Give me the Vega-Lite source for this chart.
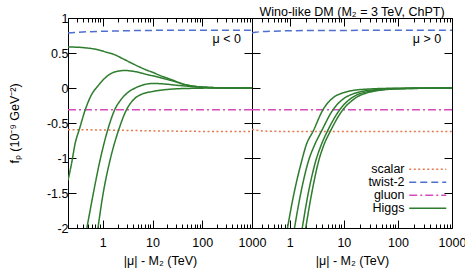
{
  "$schema": "https://vega.github.io/schema/vega-lite/v6.json",
  "padding": {"left": 7, "top": 5, "right": 2, "bottom": 2},
  "spacing": 0,
  "bounds": "flush",
  "resolve": {"scale": {"color": "independent", "strokeDash": "independent"}, "legend": {"color": "independent", "strokeDash": "independent"}},
  "config": {
    "font": "Liberation Sans",
    "view": {"stroke": "black", "strokeWidth": 1},
    "axis": {"domain": false, "grid": false, "tickColor": "black", "tickWidth": 1, "labelColor": "black", "titleColor": "black", "labelFontSize": 12.5, "titleFontSize": 12.5, "titleFontWeight": "normal", "labelFont": "Liberation Sans", "titleFont": "Liberation Sans"},
    "legend": {"labelFont": "Liberation Sans", "labelFontSize": 12.5, "labelColor": "black"}
  },
  "data": {"values": [
    {"p": "neg", "s": "scalar", "c": "s", "x": 0.2, "y": -0.595},
    {"p": "neg", "s": "scalar", "c": "s", "x": 1, "y": -0.6},
    {"p": "neg", "s": "scalar", "c": "s", "x": 10, "y": -0.612},
    {"p": "neg", "s": "scalar", "c": "s", "x": 100, "y": -0.62},
    {"p": "neg", "s": "scalar", "c": "s", "x": 1000, "y": -0.622},
    {"p": "neg", "s": "twist-2", "c": "t", "x": 0.2, "y": 0.787},
    {"p": "neg", "s": "twist-2", "c": "t", "x": 0.3, "y": 0.795},
    {"p": "neg", "s": "twist-2", "c": "t", "x": 0.5, "y": 0.803},
    {"p": "neg", "s": "twist-2", "c": "t", "x": 1, "y": 0.81},
    {"p": "neg", "s": "twist-2", "c": "t", "x": 3, "y": 0.818},
    {"p": "neg", "s": "twist-2", "c": "t", "x": 10, "y": 0.823},
    {"p": "neg", "s": "twist-2", "c": "t", "x": 100, "y": 0.825},
    {"p": "neg", "s": "twist-2", "c": "t", "x": 1000, "y": 0.825},
    {"p": "neg", "s": "gluon", "c": "g", "x": 0.2, "y": -0.31},
    {"p": "neg", "s": "gluon", "c": "g", "x": 1000, "y": -0.31},
    {"p": "neg", "s": "Higgs", "c": "h1", "x": 0.2, "y": 0.585},
    {"p": "neg", "s": "Higgs", "c": "h1", "x": 0.3, "y": 0.583},
    {"p": "neg", "s": "Higgs", "c": "h1", "x": 0.5, "y": 0.57},
    {"p": "neg", "s": "Higgs", "c": "h1", "x": 0.8, "y": 0.547},
    {"p": "neg", "s": "Higgs", "c": "h1", "x": 1.2, "y": 0.51},
    {"p": "neg", "s": "Higgs", "c": "h1", "x": 1.74, "y": 0.476},
    {"p": "neg", "s": "Higgs", "c": "h1", "x": 2.5, "y": 0.42},
    {"p": "neg", "s": "Higgs", "c": "h1", "x": 3.75, "y": 0.357},
    {"p": "neg", "s": "Higgs", "c": "h1", "x": 5.5, "y": 0.3},
    {"p": "neg", "s": "Higgs", "c": "h1", "x": 8, "y": 0.25},
    {"p": "neg", "s": "Higgs", "c": "h1", "x": 10, "y": 0.225},
    {"p": "neg", "s": "Higgs", "c": "h1", "x": 14, "y": 0.18},
    {"p": "neg", "s": "Higgs", "c": "h1", "x": 20, "y": 0.14},
    {"p": "neg", "s": "Higgs", "c": "h1", "x": 26, "y": 0.11},
    {"p": "neg", "s": "Higgs", "c": "h1", "x": 35, "y": 0.075},
    {"p": "neg", "s": "Higgs", "c": "h1", "x": 47, "y": 0.047},
    {"p": "neg", "s": "Higgs", "c": "h1", "x": 74, "y": 0.023},
    {"p": "neg", "s": "Higgs", "c": "h1", "x": 120, "y": 0.01},
    {"p": "neg", "s": "Higgs", "c": "h1", "x": 300, "y": 0.002},
    {"p": "neg", "s": "Higgs", "c": "h1", "x": 1000, "y": 0},
    {"p": "neg", "s": "Higgs", "c": "h2", "x": 0.2, "y": -1.32},
    {"p": "neg", "s": "Higgs", "c": "h2", "x": 0.24, "y": -1.05},
    {"p": "neg", "s": "Higgs", "c": "h2", "x": 0.275, "y": -0.81},
    {"p": "neg", "s": "Higgs", "c": "h2", "x": 0.345, "y": -0.57},
    {"p": "neg", "s": "Higgs", "c": "h2", "x": 0.435, "y": -0.33},
    {"p": "neg", "s": "Higgs", "c": "h2", "x": 0.59, "y": -0.1},
    {"p": "neg", "s": "Higgs", "c": "h2", "x": 0.8, "y": 0.03},
    {"p": "neg", "s": "Higgs", "c": "h2", "x": 1.1, "y": 0.14},
    {"p": "neg", "s": "Higgs", "c": "h2", "x": 1.74, "y": 0.23},
    {"p": "neg", "s": "Higgs", "c": "h2", "x": 2.77, "y": 0.25},
    {"p": "neg", "s": "Higgs", "c": "h2", "x": 4.4, "y": 0.235},
    {"p": "neg", "s": "Higgs", "c": "h2", "x": 8, "y": 0.19},
    {"p": "neg", "s": "Higgs", "c": "h2", "x": 10, "y": 0.175},
    {"p": "neg", "s": "Higgs", "c": "h2", "x": 14, "y": 0.15},
    {"p": "neg", "s": "Higgs", "c": "h2", "x": 20, "y": 0.12},
    {"p": "neg", "s": "Higgs", "c": "h2", "x": 26, "y": 0.1},
    {"p": "neg", "s": "Higgs", "c": "h2", "x": 35, "y": 0.07},
    {"p": "neg", "s": "Higgs", "c": "h2", "x": 47, "y": 0.045},
    {"p": "neg", "s": "Higgs", "c": "h2", "x": 74, "y": 0.022},
    {"p": "neg", "s": "Higgs", "c": "h2", "x": 120, "y": 0.01},
    {"p": "neg", "s": "Higgs", "c": "h2", "x": 300, "y": 0.002},
    {"p": "neg", "s": "Higgs", "c": "h2", "x": 1000, "y": 0},
    {"p": "neg", "s": "Higgs", "c": "h3", "x": 0.48, "y": -2},
    {"p": "neg", "s": "Higgs", "c": "h3", "x": 0.64, "y": -1.52},
    {"p": "neg", "s": "Higgs", "c": "h3", "x": 0.87, "y": -1.05},
    {"p": "neg", "s": "Higgs", "c": "h3", "x": 1.28, "y": -0.58},
    {"p": "neg", "s": "Higgs", "c": "h3", "x": 1.74, "y": -0.31},
    {"p": "neg", "s": "Higgs", "c": "h3", "x": 2.3, "y": -0.17},
    {"p": "neg", "s": "Higgs", "c": "h3", "x": 3.0, "y": -0.08},
    {"p": "neg", "s": "Higgs", "c": "h3", "x": 4.5, "y": 0.0},
    {"p": "neg", "s": "Higgs", "c": "h3", "x": 7, "y": 0.05},
    {"p": "neg", "s": "Higgs", "c": "h3", "x": 10, "y": 0.065},
    {"p": "neg", "s": "Higgs", "c": "h3", "x": 17.5, "y": 0.057},
    {"p": "neg", "s": "Higgs", "c": "h3", "x": 30, "y": 0.04},
    {"p": "neg", "s": "Higgs", "c": "h3", "x": 47, "y": 0.028},
    {"p": "neg", "s": "Higgs", "c": "h3", "x": 74, "y": 0.015},
    {"p": "neg", "s": "Higgs", "c": "h3", "x": 120, "y": 0.007},
    {"p": "neg", "s": "Higgs", "c": "h3", "x": 300, "y": 0.001},
    {"p": "neg", "s": "Higgs", "c": "h3", "x": 1000, "y": 0},
    {"p": "neg", "s": "Higgs", "c": "h4", "x": 0.8, "y": -2},
    {"p": "neg", "s": "Higgs", "c": "h4", "x": 1.01, "y": -1.52},
    {"p": "neg", "s": "Higgs", "c": "h4", "x": 1.38, "y": -1.05},
    {"p": "neg", "s": "Higgs", "c": "h4", "x": 2.13, "y": -0.58},
    {"p": "neg", "s": "Higgs", "c": "h4", "x": 3.0, "y": -0.31},
    {"p": "neg", "s": "Higgs", "c": "h4", "x": 4.4, "y": -0.15},
    {"p": "neg", "s": "Higgs", "c": "h4", "x": 6, "y": -0.09},
    {"p": "neg", "s": "Higgs", "c": "h4", "x": 10, "y": -0.05},
    {"p": "neg", "s": "Higgs", "c": "h4", "x": 17.5, "y": -0.025},
    {"p": "neg", "s": "Higgs", "c": "h4", "x": 30, "y": -0.012},
    {"p": "neg", "s": "Higgs", "c": "h4", "x": 60, "y": -0.005},
    {"p": "neg", "s": "Higgs", "c": "h4", "x": 150, "y": -0.001},
    {"p": "neg", "s": "Higgs", "c": "h4", "x": 1000, "y": 0},
    {"p": "pos", "s": "scalar", "c": "s", "x": 0.2, "y": -0.59},
    {"p": "pos", "s": "scalar", "c": "s", "x": 0.25, "y": -0.605},
    {"p": "pos", "s": "scalar", "c": "s", "x": 0.3, "y": -0.613},
    {"p": "pos", "s": "scalar", "c": "s", "x": 0.5, "y": -0.619},
    {"p": "pos", "s": "scalar", "c": "s", "x": 1, "y": -0.621},
    {"p": "pos", "s": "scalar", "c": "s", "x": 1000, "y": -0.622},
    {"p": "pos", "s": "twist-2", "c": "t", "x": 0.2, "y": 0.785},
    {"p": "pos", "s": "twist-2", "c": "t", "x": 0.23, "y": 0.795},
    {"p": "pos", "s": "twist-2", "c": "t", "x": 0.3, "y": 0.805},
    {"p": "pos", "s": "twist-2", "c": "t", "x": 0.5, "y": 0.812},
    {"p": "pos", "s": "twist-2", "c": "t", "x": 1, "y": 0.818},
    {"p": "pos", "s": "twist-2", "c": "t", "x": 3, "y": 0.821},
    {"p": "pos", "s": "twist-2", "c": "t", "x": 10, "y": 0.823},
    {"p": "pos", "s": "twist-2", "c": "t", "x": 1000, "y": 0.824},
    {"p": "pos", "s": "gluon", "c": "g", "x": 0.2, "y": -0.31},
    {"p": "pos", "s": "gluon", "c": "g", "x": 1000, "y": -0.31},
    {"p": "pos", "s": "Higgs", "c": "hA", "x": 0.906, "y": -2},
    {"p": "pos", "s": "Higgs", "c": "hA", "x": 1.2, "y": -1.5},
    {"p": "pos", "s": "Higgs", "c": "hA", "x": 1.65, "y": -1.05},
    {"p": "pos", "s": "Higgs", "c": "hA", "x": 2.02, "y": -0.81},
    {"p": "pos", "s": "Higgs", "c": "hA", "x": 2.69, "y": -0.62},
    {"p": "pos", "s": "Higgs", "c": "hA", "x": 4.11, "y": -0.31},
    {"p": "pos", "s": "Higgs", "c": "hA", "x": 6.3, "y": -0.14},
    {"p": "pos", "s": "Higgs", "c": "hA", "x": 10, "y": -0.065},
    {"p": "pos", "s": "Higgs", "c": "hA", "x": 14.7, "y": -0.035},
    {"p": "pos", "s": "Higgs", "c": "hA", "x": 34, "y": -0.012},
    {"p": "pos", "s": "Higgs", "c": "hA", "x": 100, "y": -0.003},
    {"p": "pos", "s": "Higgs", "c": "hA", "x": 1000, "y": 0},
    {"p": "pos", "s": "Higgs", "c": "hB", "x": 1.22, "y": -2},
    {"p": "pos", "s": "Higgs", "c": "hB", "x": 1.6, "y": -1.5},
    {"p": "pos", "s": "Higgs", "c": "hB", "x": 2.2, "y": -1.05},
    {"p": "pos", "s": "Higgs", "c": "hB", "x": 2.89, "y": -0.81},
    {"p": "pos", "s": "Higgs", "c": "hB", "x": 3.83, "y": -0.62},
    {"p": "pos", "s": "Higgs", "c": "hB", "x": 6.3, "y": -0.31},
    {"p": "pos", "s": "Higgs", "c": "hB", "x": 10, "y": -0.15},
    {"p": "pos", "s": "Higgs", "c": "hB", "x": 14.7, "y": -0.085},
    {"p": "pos", "s": "Higgs", "c": "hB", "x": 34, "y": -0.028},
    {"p": "pos", "s": "Higgs", "c": "hB", "x": 100, "y": -0.007},
    {"p": "pos", "s": "Higgs", "c": "hB", "x": 1000, "y": 0},
    {"p": "pos", "s": "Higgs", "c": "hC", "x": 1.7, "y": -2},
    {"p": "pos", "s": "Higgs", "c": "hC", "x": 2.2, "y": -1.5},
    {"p": "pos", "s": "Higgs", "c": "hC", "x": 3.0, "y": -1.05},
    {"p": "pos", "s": "Higgs", "c": "hC", "x": 3.83, "y": -0.81},
    {"p": "pos", "s": "Higgs", "c": "hC", "x": 4.94, "y": -0.62},
    {"p": "pos", "s": "Higgs", "c": "hC", "x": 8.4, "y": -0.31},
    {"p": "pos", "s": "Higgs", "c": "hC", "x": 14.7, "y": -0.13},
    {"p": "pos", "s": "Higgs", "c": "hC", "x": 34, "y": -0.04},
    {"p": "pos", "s": "Higgs", "c": "hC", "x": 100, "y": -0.01},
    {"p": "pos", "s": "Higgs", "c": "hC", "x": 1000, "y": 0},
    {"p": "pos", "s": "Higgs", "c": "hD", "x": 1.97, "y": -2},
    {"p": "pos", "s": "Higgs", "c": "hD", "x": 2.55, "y": -1.5},
    {"p": "pos", "s": "Higgs", "c": "hD", "x": 3.4, "y": -1.05},
    {"p": "pos", "s": "Higgs", "c": "hD", "x": 4.29, "y": -0.81},
    {"p": "pos", "s": "Higgs", "c": "hD", "x": 5.6, "y": -0.62},
    {"p": "pos", "s": "Higgs", "c": "hD", "x": 9.6, "y": -0.31},
    {"p": "pos", "s": "Higgs", "c": "hD", "x": 14.7, "y": -0.17},
    {"p": "pos", "s": "Higgs", "c": "hD", "x": 34, "y": -0.05},
    {"p": "pos", "s": "Higgs", "c": "hD", "x": 100, "y": -0.012},
    {"p": "pos", "s": "Higgs", "c": "hD", "x": 1000, "y": 0}
  ]},
  "hconcat": [
    {
      "width": 184, "height": 210,
      "layer": [
        {
          "transform": [{"filter": "datum.p == 'neg'"}],
          "mark": {"type": "line", "clip": true, "strokeWidth": 1.5, "interpolate": "monotone"},
          "encoding": {
            "x": {"field": "x", "type": "quantitative", "scale": {"type": "log", "domain": [0.2, 1000], "nice": false},
              "axis": {"orient": "bottom", "title": "|μ| - M₂ (TeV)", "titlePadding": 2,
                "values": [0.2,0.3,0.4,0.5,0.6,0.7,0.8,0.9,1,2,3,4,5,6,7,8,9,10,20,30,40,50,60,70,80,90,100,200,300,400,500,600,700,800,900,1000],
                "labelExpr": "indexof([1,10,100,1000], datum.value) >= 0 ? format(datum.value, 'd') : ''",
                "tickSize": {"condition": {"test": "indexof([1,10,100,1000], datum.value) >= 0", "value": -8}, "value": -4},
                "labelPadding": 16, "labelFlush": false, "labelOverlap": false}},
            "y": {"field": "y", "type": "quantitative", "scale": {"domain": [-2, 1], "nice": false, "zero": false},
              "axis": {"orient": "left", "title": "fₚ (10⁻⁹ GeV⁻²)", "titlePadding": 25,
                "values": [-2,-1.5,-1,-0.5,0,0.5,1],
                "labelExpr": "datum.value < 0 ? '-' + format(-datum.value, '~g') : format(datum.value, '~g')",
                "tickSize": -8, "labelPadding": 8, "labelFlush": false}},
            "color": {"field": "s", "type": "nominal", "scale": {"domain": ["scalar", "twist-2", "gluon", "Higgs"], "range": ["#e4794f", "#4f6fcf", "#d64bbd", "#2e7d2e"]}, "legend": null},
            "strokeDash": {"field": "s", "type": "nominal", "scale": {"domain": ["scalar", "twist-2", "gluon", "Higgs"], "range": [[2, 2.5], [7, 4], [8, 3, 2, 3], [1, 0]]}, "legend": null},
            "detail": {"field": "c"}
          }
        },
        {
          "data": {"values": [{"t": "μ < 0"}]},
          "mark": {"type": "text", "align": "right", "baseline": "middle", "fontSize": 12.5, "font": "Liberation Sans", "color": "black"},
          "encoding": {
            "text": {"field": "t"},
            "x": {"datum": 600, "type": "quantitative", "scale": {"type": "log", "domain": [0.2, 1000], "nice": false},
              "axis": {"orient": "top", "title": null, "labels": false,
                "values": [0.2,0.3,0.4,0.5,0.6,0.7,0.8,0.9,1,2,3,4,5,6,7,8,9,10,20,30,40,50,60,70,80,90,100,200,300,400,500,600,700,800,900,1000],
                "tickSize": {"condition": {"test": "indexof([1,10,100,1000], datum.value) >= 0", "value": -8}, "value": -4}}},
            "y": {"datum": 0.7, "type": "quantitative", "scale": {"domain": [-2, 1], "nice": false, "zero": false},
              "axis": {"orient": "right", "title": null, "labels": false, "values": [-2,-1.5,-1,-0.5,0,0.5,1], "tickSize": -8}}
          }
        }
      ],
      "resolve": {"axis": {"x": "independent", "y": "independent"}}
    },
    {
      "width": 200, "height": 210,
      "title": {"text": "Wino-like DM (M₂ = 3 TeV, ChPT)", "fontSize": 12.5, "fontWeight": "normal", "font": "Liberation Sans", "offset": -1, "anchor": "middle", "color": "black"},
      "layer": [
        {
          "transform": [{"filter": "datum.p == 'pos'"}],
          "mark": {"type": "line", "clip": true, "strokeWidth": 1.5, "interpolate": "monotone"},
          "encoding": {
            "x": {"field": "x", "type": "quantitative", "scale": {"type": "log", "domain": [0.2, 1000], "nice": false},
              "axis": {"orient": "bottom", "title": "|μ| - M₂ (TeV)", "titlePadding": 2,
                "values": [0.2,0.3,0.4,0.5,0.6,0.7,0.8,0.9,1,2,3,4,5,6,7,8,9,10,20,30,40,50,60,70,80,90,100,200,300,400,500,600,700,800,900,1000],
                "labelExpr": "indexof([1,10,100,1000], datum.value) >= 0 ? format(datum.value, 'd') : ''",
                "tickSize": {"condition": {"test": "indexof([1,10,100,1000], datum.value) >= 0", "value": -8}, "value": -4},
                "labelPadding": 16, "labelFlush": false, "labelOverlap": false}},
            "y": {"field": "y", "type": "quantitative", "scale": {"domain": [-2, 1], "nice": false, "zero": false},
              "axis": {"orient": "left", "title": null, "labels": false, "values": [-2,-1.5,-1,-0.5,0,0.5,1], "tickSize": -8}},
            "color": {"field": "s", "type": "nominal", "scale": {"domain": ["scalar", "twist-2", "gluon", "Higgs"], "range": ["#e4794f", "#4f6fcf", "#d64bbd", "#2e7d2e"]},
              "legend": {"orient": "none", "legendX": 169.5, "legendY": 145, "title": null, "labelAlign": "right", "labelOffset": -29.5, "symbolType": "M-10,0H10", "symbolSize": 13.69, "symbolStrokeWidth": 1.5, "symbolFillColor": "transparent", "rowPadding": 0, "labelFontSize": 12.5}},
            "strokeDash": {"field": "s", "type": "nominal", "scale": {"domain": ["scalar", "twist-2", "gluon", "Higgs"], "range": [[2, 2.5], [7, 4], [8, 3, 2, 3], [1, 0]]},
              "legend": {"orient": "none", "legendX": 169.5, "legendY": 145, "title": null, "labelAlign": "right", "labelOffset": -29.5, "symbolType": "M-10,0H10", "symbolSize": 13.69, "symbolStrokeWidth": 1.5, "symbolFillColor": "transparent", "rowPadding": 0, "labelFontSize": 12.5}},
            "detail": {"field": "c"}
          }
        },
        {
          "data": {"values": [{"t": "μ > 0"}]},
          "mark": {"type": "text", "align": "right", "baseline": "middle", "fontSize": 12.5, "font": "Liberation Sans", "color": "black"},
          "encoding": {
            "text": {"field": "t"},
            "x": {"datum": 630, "type": "quantitative", "scale": {"type": "log", "domain": [0.2, 1000], "nice": false},
              "axis": {"orient": "top", "title": null, "labels": false,
                "values": [0.2,0.3,0.4,0.5,0.6,0.7,0.8,0.9,1,2,3,4,5,6,7,8,9,10,20,30,40,50,60,70,80,90,100,200,300,400,500,600,700,800,900,1000],
                "tickSize": {"condition": {"test": "indexof([1,10,100,1000], datum.value) >= 0", "value": -8}, "value": -4}}},
            "y": {"datum": 0.7, "type": "quantitative", "scale": {"domain": [-2, 1], "nice": false, "zero": false},
              "axis": {"orient": "right", "title": null, "labels": false, "values": [-2,-1.5,-1,-0.5,0,0.5,1], "tickSize": -8}}
          }
        }
      ],
      "resolve": {"axis": {"x": "independent", "y": "independent"}}
    }
  ]
}
